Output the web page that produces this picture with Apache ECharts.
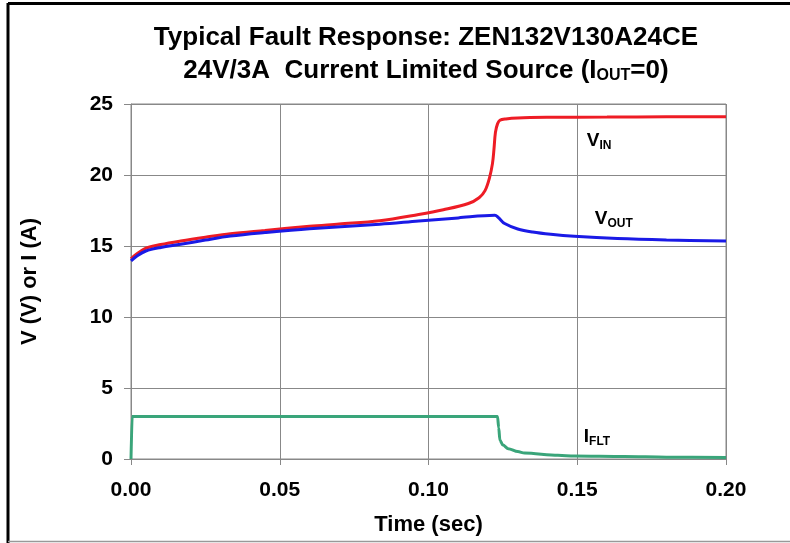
<!DOCTYPE html>
<html>
<head>
<meta charset="utf-8">
<script src="https://cdn.jsdelivr.net/npm/echarts@6/dist/echarts.min.js"></script>
<style>
html,body{margin:0;padding:0;background:#fff;}
#c{width:790px;height:543px;}
</style>
</head>
<body>
<div id="c"></div>
<script>
// ---- data ----
const xTicks = [0, 0.05, 0.10, 0.15, 0.20];
const yTicks = [0, 5, 10, 15, 20, 25];

const vinT = [0, 0.002, 0.005, 0.01, 0.0167, 0.025, 0.0334, 0.045, 0.06, 0.07, 0.0836, 0.0967, 0.105, 0.1134, 0.117, 0.119, 0.1205, 0.1215, 0.122, 0.1225, 0.1232, 0.124, 0.126, 0.13, 0.14, 0.16, 0.18, 0.2];
const vinV = [14.1, 14.45, 14.85, 15.1, 15.35, 15.62, 15.87, 16.1, 16.39, 16.55, 16.78, 17.22, 17.55, 17.99, 18.4, 18.9, 19.8, 20.8, 21.8, 23.0, 23.6, 23.85, 23.95, 24.02, 24.06, 24.08, 24.1, 24.1];

const voutT = [0, 0.002, 0.005, 0.01, 0.0167, 0.025, 0.0334, 0.045, 0.06, 0.0836, 0.0967, 0.11, 0.1223, 0.1235, 0.1256, 0.13, 0.135, 0.1411, 0.149, 0.1635, 0.18, 0.2];
const voutV = [13.95, 14.3, 14.65, 14.9, 15.12, 15.42, 15.7, 15.95, 16.22, 16.53, 16.76, 16.98, 17.16, 17.0, 16.58, 16.2, 15.98, 15.82, 15.68, 15.52, 15.42, 15.35];

const ifltT = [0, 0.0004, 0.001, 0.05, 0.1232, 0.1236, 0.124, 0.125, 0.1268, 0.13, 0.1323, 0.1435, 0.149, 0.1658, 0.18, 0.2];
const ifltV = [0, 3.0, 3.0, 3.0, 3.0, 2.2, 1.32, 0.98, 0.73, 0.52, 0.42, 0.26, 0.21, 0.17, 0.13, 0.1];

const labelVin = [0.1532, 22.4];
const labelVout = [0.1559, 16.9];
const labelIflt = [0.1522, 1.55];

// ---- build ----
const zip = (t, v) => t.map((x, i) => [x, v[i]]);
const FONT = '"Liberation Sans", Arial, sans-serif';
const subRich = {
  a: {fontFamily: FONT, fontWeight: 'bold', fontSize: 19, color: '#000'},
  b: {fontFamily: FONT, fontWeight: 'bold', fontSize: 12, color: '#000', padding: [9, 0, 0, 0]}
};
function mark(coord, main, sub) {
  return {
    symbol: 'circle', symbolSize: 0, silent: true,
    data: [{coord: coord}],
    label: {show: true, position: 'right', distance: 0, formatter: '{a|' + main + '}{b|' + sub + '}', rich: subRich}
  };
}

const chart = echarts.init(document.getElementById('c'), null, {renderer: 'canvas'});
chart.setOption({
  backgroundColor: '#fff',
  animation: false,
  title: {
    left: 421, top: 16, textAlign: 'center',
    text: '{t|Typical Fault Response: ZEN132V130A24CE}\n{t|24V/3A  Current Limited Source (I}{s|OUT}{t|=0)}',
    textStyle: {
      rich: {
        t: {fontFamily: FONT, fontWeight: 'bold', fontSize: 26, color: '#000', lineHeight: 33},
        s: {fontFamily: FONT, fontWeight: 'bold', fontSize: 16, color: '#000', lineHeight: 33, padding: [11, 0, 0, 0]}
      }
    }
  },
  grid: {left: 131, right: 64, top: 104, bottom: 84, show: true, borderColor: '#888', borderWidth: 1},
  xAxis: {
    type: 'value', min: 0, max: 0.2, interval: 0.05,
    name: 'Time (sec)', nameLocation: 'middle', nameGap: 55,
    nameTextStyle: {fontFamily: FONT, fontWeight: 'bold', fontSize: 22, color: '#000'},
    axisLine: {show: true, lineStyle: {color: '#888', width: 1}},
    axisTick: {show: true, length: 6, lineStyle: {color: '#888'}},
    axisLabel: {margin: 21, fontFamily: FONT, fontWeight: 'bold', fontSize: 21, color: '#000',
      formatter: v => v.toFixed(2)},
    splitLine: {show: true, lineStyle: {color: '#888', width: 1}}
  },
  yAxis: {
    type: 'value', min: 0, max: 25, interval: 5,
    name: 'V (V) or I (A)', nameLocation: 'middle', nameGap: 90,
    nameTextStyle: {fontFamily: FONT, fontWeight: 'bold', fontSize: 22, color: '#000'},
    axisLine: {show: true, lineStyle: {color: '#888', width: 1}},
    axisTick: {show: true, length: 7, lineStyle: {color: '#888'}},
    axisLabel: {margin: 18, fontFamily: FONT, fontWeight: 'bold', fontSize: 21, color: '#000'},
    splitLine: {show: true, lineStyle: {color: '#888', width: 1}}
  },
  series: [
    {name: 'VIN', type: 'line', data: zip(vinT, vinV), showSymbol: false, smooth: 0.35,
      lineStyle: {color: '#ee1c25', width: 3}, itemStyle: {color: '#ee1c25'}, z: 3,
      markPoint: mark(labelVin, 'V', 'IN')},
    {name: 'VOUT', type: 'line', data: zip(voutT, voutV), showSymbol: false, smooth: 0.35,
      lineStyle: {color: '#1a1ae6', width: 3}, itemStyle: {color: '#1a1ae6'}, z: 4,
      markPoint: mark(labelVout, 'V', 'OUT')},
    {name: 'IFLT', type: 'line', data: zip(ifltT, ifltV), showSymbol: false, smooth: 0.3, smoothMonotone: 'x',
      lineStyle: {color: '#3aa57a', width: 3}, itemStyle: {color: '#3aa57a'}, z: 3,
      markPoint: mark(labelIflt, 'I', 'FLT')}
  ],
  graphic: [
    {type: 'line', shape: {x1: 8, y1: 3.5, x2: 790, y2: 3.5}, style: {stroke: '#000', lineWidth: 3}, silent: true},
    {type: 'line', shape: {x1: 8, y1: 3, x2: 8, y2: 543}, style: {stroke: '#000', lineWidth: 3}, silent: true},
    {type: 'line', shape: {x1: 8, y1: 541.5, x2: 790, y2: 541.5}, style: {stroke: '#999', lineWidth: 1.5}, silent: true}
  ]
});
</script>
</body>
</html>
